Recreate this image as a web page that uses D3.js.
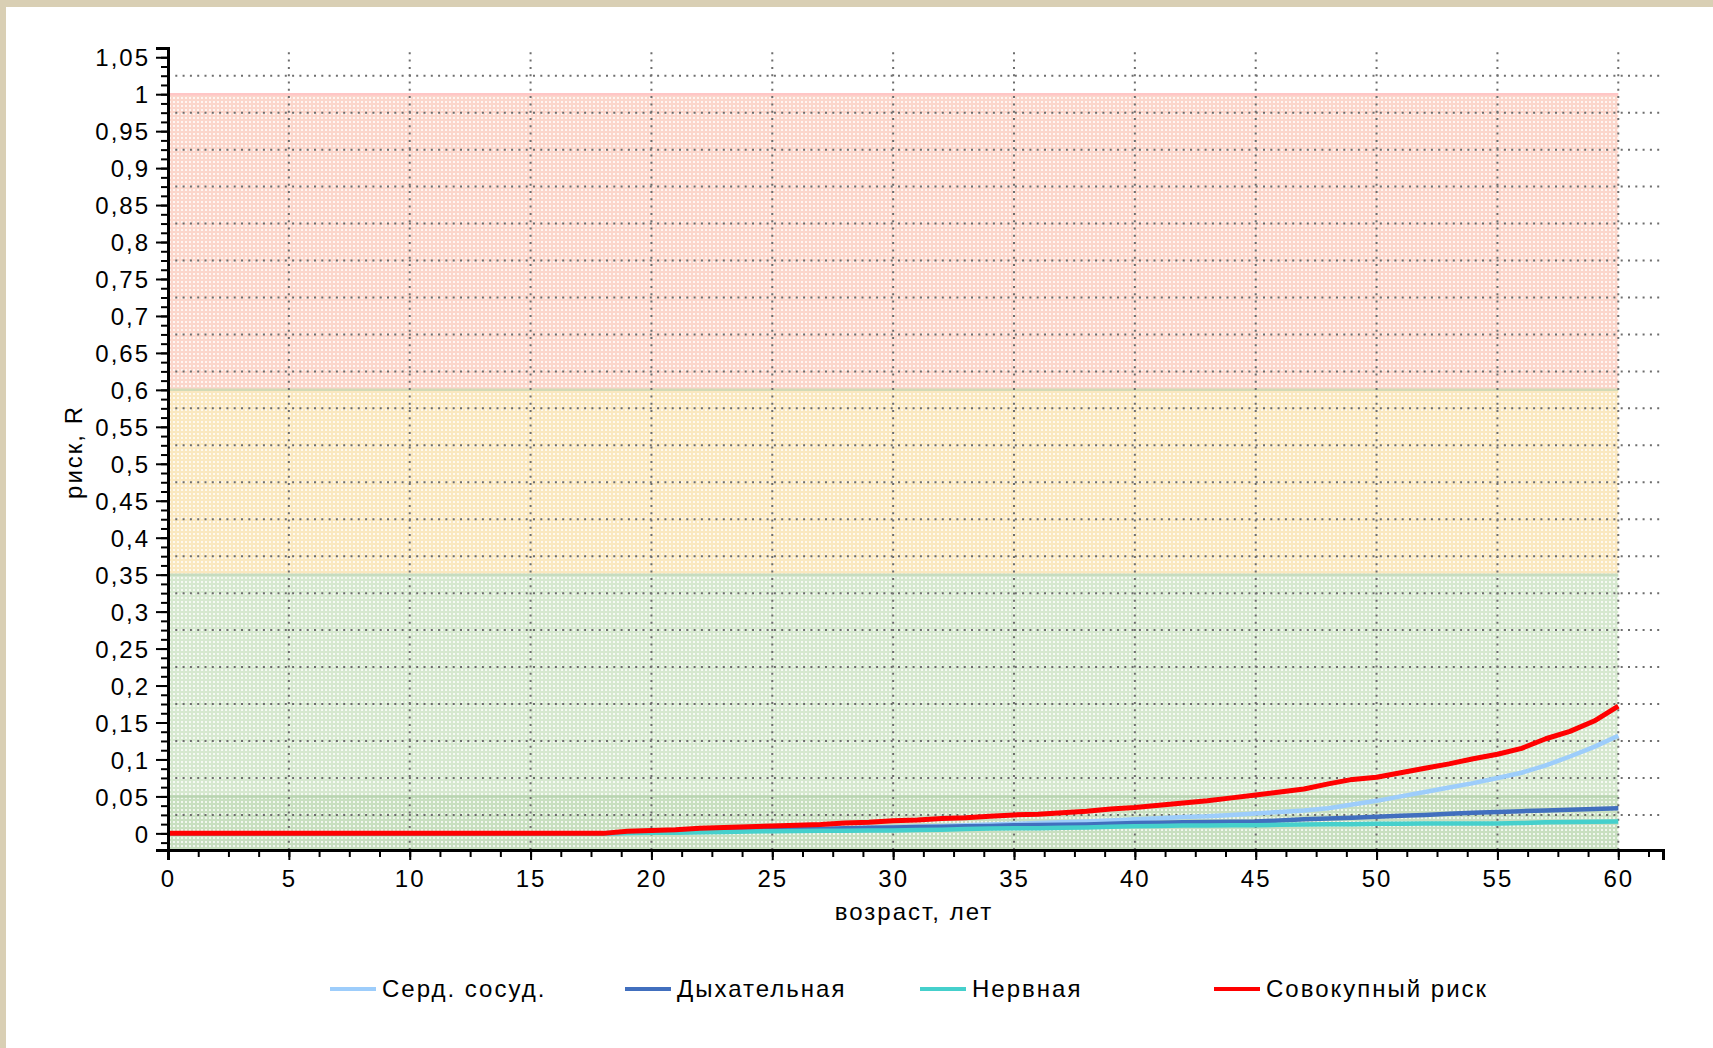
<!DOCTYPE html>
<html lang="ru">
<head>
<meta charset="utf-8">
<title>Риск</title>
<script src="https://cdn.jsdelivr.net/npm/d3@7"></script>
<style>
  html, body { margin: 0; padding: 0; background: #d9cfb4; }
  svg { display: block; }
  text { font-family: Arial, "Liberation Sans", sans-serif; letter-spacing: 2px; fill: #000; }
</style>
</head>
<body>
<script>
// ages 0..60
var ages = d3.range(0, 61);

// Серд. сосуд.
var cardio = [0,0,0,0,0,0,0,0,0,0, 0,0,0,0,0,0,0,0,0,0.0005,
  0.001,0.0015,0.002,0.0027,0.0035,0.004,0.005,0.0058,0.0065,0.0075,
  0.0085,0.0092,0.010,0.011,0.012,0.013,0.014,0.015,0.016,0.0175,
  0.019,0.0205,0.022,0.023,0.025,0.027,0.029,0.031,0.034,0.039,
  0.044,0.050,0.056,0.062,0.068,0.075,0.082,0.092,0.104,0.117,0.132];
// Дыхательная
var resp = [0,0,0,0,0,0,0,0,0,0, 0,0,0,0,0,0,0,0,0,0.001,
  0.0015,0.002,0.003,0.0035,0.004,0.005,0.0055,0.006,0.007,0.0075,
  0.008,0.0085,0.009,0.0095,0.010,0.011,0.0113,0.0116,0.012,0.013,
  0.014,0.0145,0.015,0.0155,0.0157,0.016,0.0175,0.019,0.020,0.021,
  0.0225,0.024,0.025,0.0265,0.028,0.029,0.030,0.031,0.032,0.033,0.034];
// Нервная
var nerv = [0,0,0,0,0,0,0,0,0,0, 0,0,0,0,0,0,0,0,0,0.0005,
  0.0007,0.001,0.0015,0.002,0.0025,0.003,0.0032,0.0035,0.0037,0.004,
  0.004,0.0045,0.005,0.006,0.0065,0.007,0.007,0.0075,0.008,0.009,
  0.0095,0.010,0.0105,0.0107,0.011,0.011,0.0115,0.012,0.0122,0.0125,
  0.013,0.013,0.0132,0.0133,0.0134,0.0135,0.014,0.015,0.0155,0.0158,0.016];
// Совокупный риск
var total = [0,0,0,0,0,0,0,0,0,0, 0,0,0,0,0,0,0,0,0,0.003,
  0.004,0.005,0.007,0.008,0.009,0.010,0.011,0.012,0.014,0.015,
  0.017,0.018,0.020,0.021,0.023,0.025,0.026,0.028,0.030,0.033,
  0.035,0.038,0.041,0.044,0.048,0.052,0.056,0.060,0.067,0.073,
  0.076,0.082,0.088,0.094,0.101,0.107,0.115,0.128,0.138,0.152,0.172];

var seriesNames = ["Серд. сосуд.", "Дыхательная", "Нервная", "Совокупный риск"];
var seriesData = [cardio, resp, nerv, total];
var seriesColors = ["#9dcdfb", "#416fbe", "#45d0cc", "#ff0000"];

var xTicks = [0,5,10,15,20,25,30,35,40,45,50,55,60];
var yTicks = [0,0.05,0.1,0.15,0.2,0.25,0.3,0.35,0.4,0.45,0.5,0.55,0.6,0.65,0.7,0.75,0.8,0.85,0.9,0.95,1,1.05];

// risk zones (lower, upper)
var zoneLow = [0.6, 0.35, -0.0225, -0.0225];
var zoneHigh = [1, 0.6, 0.35, 0.05];

var W = 1713, H = 1048;

var svg = d3.select("body").append("svg")
  .attr("width", W)
  .attr("height", H);

// page background (white card inside a beige frame)
svg.append("rect").attr("width", W).attr("height", H).attr("fill", "#d9cfb4");
svg.append("rect").attr("x", 6).attr("y", 7).attr("width", W - 6).attr("height", H - 7).attr("fill", "#fff");

var x = d3.scaleLinear().domain([0, 61.85]).range([168, 1663]);
var y = d3.scaleLinear().domain([-0.0225, 1.0625]).range([850, 48]);

// dotted fill patterns for zones
var zoneBase = ["#fbd6cb", "#fae8c0", "#d6e8cf", "#c8dfc0"];
var zoneEdge = ["#ffc6c6", "#d2dab6", "#c6dcc0", "#b9d4b1"];
var defs = svg.append("defs");
zoneBase.forEach(function(c, i) {
  var p = defs.append("pattern")
    .attr("id", "zone" + i)
    .attr("patternUnits", "userSpaceOnUse")
    .attr("width", 4).attr("height", 4);
  p.append("rect").attr("width", 4).attr("height", 4).attr("fill", c);
  p.append("rect").attr("x", 1).attr("y", 1).attr("width", 2).attr("height", 2)
    .attr("fill", "#fff").attr("opacity", 0.75);
});

svg.selectAll("rect.zone")
  .data(zoneLow)
  .enter()
  .append("rect")
  .attr("class", "zone")
  .attr("x", x(0))
  .attr("width", x(60) - x(0))
  .attr("y", function(d, i) { return y(zoneHigh[i]); })
  .attr("height", function(d, i) { return y(d) - y(zoneHigh[i]); })
  .attr("fill", function(d, i) { return "url(#zone" + i + ")"; });

svg.selectAll("line.zoneEdge")
  .data(zoneHigh)
  .enter()
  .append("line")
  .attr("class", "zoneEdge")
  .attr("x1", x(0)).attr("x2", x(60))
  .attr("y1", function(d) { return y(d); })
  .attr("y2", function(d) { return y(d); })
  .attr("stroke", function(d, i) { return zoneEdge[i]; })
  .attr("stroke-width", 2.5);

// grid
var gridY = d3.range(0.025, 1.05, 0.05);
svg.selectAll("line.gy")
  .data(gridY)
  .enter()
  .append("line")
  .attr("class", "gy")
  .attr("x1", x(0)).attr("x2", x(61.85))
  .attr("y1", function(d) { return y(d); })
  .attr("y2", function(d) { return y(d); })
  .attr("stroke", "#6e6e6e")
  .attr("stroke-width", 2)
  .attr("stroke-dasharray", "2,5.3");

svg.selectAll("line.gx")
  .data(xTicks.slice(1))
  .enter()
  .append("line")
  .attr("class", "gx")
  .attr("y1", y(-0.0225)).attr("y2", 48)
  .attr("x1", function(d) { return x(d); })
  .attr("x2", function(d) { return x(d); })
  .attr("stroke", "#6e6e6e")
  .attr("stroke-width", 2)
  .attr("stroke-dasharray", "2,5.3");

// lines
var line = d3.line()
  .x(function(d, i) { return x(ages[i]); })
  .y(function(d) { return y(d); });

svg.selectAll("path.series")
  .data(seriesData)
  .enter()
  .append("path")
  .attr("class", "series")
  .attr("d", line)
  .attr("fill", "none")
  .attr("stroke", function(d, i) { return seriesColors[i]; })
  .attr("stroke-width", function(d, i) { return i == 3 ? 5 : 4.5; })
  .attr("stroke-linejoin", "round");

// axes
var fmt = function(d) { return String(+d.toFixed(2)).replace(".", ","); };

var yMinor = svg.append("g")
  .attr("transform", "translate(" + x(0) + ",0)")
  .call(d3.axisLeft(y).tickValues(d3.range(-0.0125, 1.06, 0.0125)).tickSize(7).tickFormat(""));
var yAxis = svg.append("g")
  .attr("transform", "translate(" + x(0) + ",0)")
  .call(d3.axisLeft(y).tickValues(yTicks).tickSize(12).tickPadding(6).tickFormat(fmt));

var xMinor = svg.append("g")
  .attr("transform", "translate(0," + y(-0.0225) + ")")
  .call(d3.axisBottom(x).tickValues(d3.range(0, 61.5, 1.25)).tickSize(7).tickFormat(""));
var xAxis = svg.append("g")
  .attr("transform", "translate(0," + y(-0.0225) + ")")
  .call(d3.axisBottom(x).tickValues(xTicks).tickSize(10).tickPadding(10).tickFormat(fmt));

[yMinor, yAxis, xMinor, xAxis].forEach(function(g) {
  g.selectAll("path.domain").attr("stroke", "#000").attr("stroke-width", 3);
  g.selectAll(".tick line").attr("stroke", "#000").attr("stroke-width", 2);
  g.selectAll("text").attr("font-size", 24).attr("font-family", null).attr("fill", "#000");
});
yAxis.selectAll("text").attr("dy", "0.36em");

// axis titles
svg.append("text")
  .attr("transform", "translate(82,452) rotate(-90)")
  .attr("text-anchor", "middle")
  .attr("font-size", 24)
  .text("риск, R");

svg.append("text")
  .attr("x", 914).attr("y", 920)
  .attr("text-anchor", "middle")
  .attr("font-size", 24)
  .text("возраст, лет");

// legend
var legendX = [330, 625, 920, 1214];
var legend = svg.selectAll("g.legend")
  .data(seriesNames)
  .enter()
  .append("g")
  .attr("class", "legend")
  .attr("transform", function(d, i) { return "translate(" + legendX[i] + ",989)"; });
legend.append("line")
  .attr("x1", 0).attr("x2", 46)
  .attr("stroke", function(d, i) { return seriesColors[i]; })
  .attr("stroke-width", 4);
legend.append("text")
  .attr("x", 52).attr("y", 8)
  .attr("font-size", 24)
  .text(function(d) { return d; });
</script>
</body>
</html>
